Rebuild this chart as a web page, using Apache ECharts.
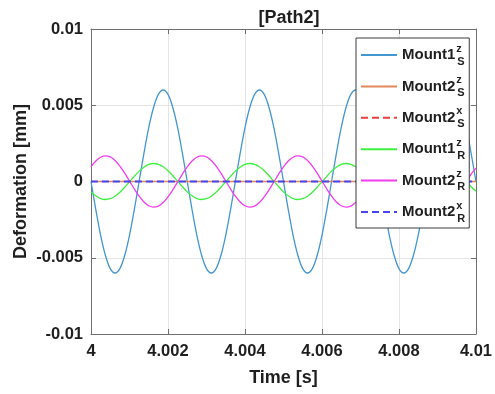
<!DOCTYPE html>
<html>
<head>
<meta charset="utf-8">
<script src="https://cdn.jsdelivr.net/npm/echarts@6.0.0/dist/echarts.min.js"></script>
<style>
  html, body { margin: 0; padding: 0; background: #fff; }
  #chart { width: 495px; height: 394px; }
</style>
</head>
<body>
<div id="chart"></div>
<script>
// time axis samples [s]
const times = [
  4, 4.000125, 4.00025, 4.000375, 4.0005, 4.000625, 4.00075, 4.000875,
  4.001, 4.001125, 4.00125, 4.001375, 4.0015, 4.001625, 4.00175, 4.001875,
  4.002, 4.002125, 4.00225, 4.002375, 4.0025, 4.002625, 4.00275, 4.002875,
  4.003, 4.003125, 4.00325, 4.003375, 4.0035, 4.003625, 4.00375, 4.003875,
  4.004, 4.004125, 4.00425, 4.004375, 4.0045, 4.004625, 4.00475, 4.004875,
  4.005, 4.005125, 4.00525, 4.005375, 4.0055, 4.005625, 4.00575, 4.005875,
  4.006, 4.006125, 4.00625, 4.006375, 4.0065, 4.006625, 4.00675, 4.006875,
  4.007, 4.007125, 4.00725, 4.007375, 4.0075, 4.007625, 4.00775, 4.007875,
  4.008, 4.008125, 4.00825, 4.008375, 4.0085, 4.008625, 4.00875, 4.008875,
  4.009, 4.009125, 4.00925, 4.009375, 4.0095, 4.009625, 4.00975, 4.009875,
  4.01
];

// Mount1 S z  [mm]
const mount1Sz = [
  0, -0.00185, -0.00353, -0.00485, -0.00571, -0.006, -0.00571, -0.00485,
  -0.00353, -0.00185, 0, 0.00185, 0.00353, 0.00485, 0.00571, 0.006,
  0.00571, 0.00485, 0.00353, 0.00185, 0, -0.00185, -0.00353, -0.00485,
  -0.00571, -0.006, -0.00571, -0.00485, -0.00353, -0.00185, 0, 0.00185,
  0.00353, 0.00485, 0.00571, 0.006, 0.00571, 0.00485, 0.00353, 0.00185,
  0, -0.00185, -0.00353, -0.00485, -0.00571, -0.006, -0.00571, -0.00485,
  -0.00353, -0.00185, 0, 0.00185, 0.00353, 0.00485, 0.00571, 0.006,
  0.00571, 0.00485, 0.00353, 0.00185, 0, -0.00185, -0.00353, -0.00485,
  -0.00571, -0.006, -0.00571, -0.00485, -0.00353, -0.00185, 0, 0.00185,
  0.00353, 0.00485, 0.00571, 0.006, 0.00571, 0.00485, 0.00353, 0.00185,
  0
];

// Mount1 R z  [mm]
const mount1Rz = [
  -0.00068, -0.00094, -0.00112, -0.00118, -0.00113, -0.00097, -0.00071, -0.00038,
  -0.00002, 0.00034, 0.00068, 0.00094, 0.00112, 0.00118, 0.00113, 0.00097,
  0.00071, 0.00038, 0.00002, -0.00034, -0.00068, -0.00094, -0.00112, -0.00118,
  -0.00113, -0.00097, -0.00071, -0.00038, -0.00002, 0.00034, 0.00068, 0.00094,
  0.00112, 0.00118, 0.00113, 0.00097, 0.00071, 0.00038, 0.00002, -0.00034,
  -0.00068, -0.00094, -0.00112, -0.00118, -0.00113, -0.00097, -0.00071, -0.00038,
  -0.00002, 0.00034, 0.00068, 0.00094, 0.00112, 0.00118, 0.00113, 0.00097,
  0.00071, 0.00038, 0.00002, -0.00034, -0.00068, -0.00094, -0.00112, -0.00118,
  -0.00113, -0.00097, -0.00071, -0.00038, -0.00002, 0.00034, 0.00068, 0.00094,
  0.00112, 0.00118, 0.00113, 0.00097, 0.00071, 0.00038, 0.00002, -0.00034,
  -0.00062
];

// Mount2 R z  [mm]
const mount2Rz = [
  0.00096, 0.00134, 0.00159, 0.00168, 0.00161, 0.00138, 0.00101, 0.00055,
  0.00003, -0.00049, -0.00096, -0.00134, -0.00159, -0.00168, -0.00161, -0.00138,
  -0.00101, -0.00055, -0.00003, 0.00049, 0.00096, 0.00134, 0.00159, 0.00168,
  0.00161, 0.00138, 0.00101, 0.00055, 0.00003, -0.00049, -0.00096, -0.00134,
  -0.00159, -0.00168, -0.00161, -0.00138, -0.00101, -0.00055, -0.00003, 0.00049,
  0.00096, 0.00134, 0.00159, 0.00168, 0.00161, 0.00138, 0.00101, 0.00055,
  0.00003, -0.00049, -0.00096, -0.00134, -0.00159, -0.00168, -0.00161, -0.00138,
  -0.00101, -0.00055, -0.00003, 0.00049, 0.00096, 0.00134, 0.00159, 0.00168,
  0.00161, 0.00138, 0.00101, 0.00055, 0.00003, -0.00049, -0.00096, -0.00134,
  -0.00159, -0.00168, -0.00161, -0.00138, -0.00101, -0.00055, -0.00003, 0.00049,
  0.00088
];

// flat traces (two end points)
const flatTimes = [4, 4.01];
const mount2Sz = [0, 0];
const mount2Sx = [0, 0];
const mount2Rx = [0, 0];

// legend pieces: base name, superscript, subscript
const legendBase = ["Mount1", "Mount2", "Mount2", "Mount1", "Mount2", "Mount2"];
const legendSup = ["z", "z", "x", "z", "z", "x"];
const legendSub = ["S", "S", "S", "R", "R", "R"];
const seriesNames = legendBase.map((b, i) => b + "_" + legendSub[i] + "^" + legendSup[i]);

const xTicks = { min: 4, max: 4.01, interval: 0.002 };
const yTicks = { min: -0.01, max: 0.01, interval: 0.005 };

const FONT = '"Liberation Sans", Arial, sans-serif';
const TXT = "#1f1f1f";
const AXC = "#707070";

const pairs = (xs, ys) => xs.map((x, i) => [x, ys[i]]);

const chart = echarts.init(document.getElementById("chart"));

function lineSeries(idx, xs, ys, color, dashed, width) {
  return {
    name: seriesNames[idx],
    type: "line",
    data: pairs(xs, ys),
    symbol: "none",
    smooth: 0.35,
    lineStyle: { color: color, width: width || 1.3, type: dashed ? [7, 4] : "solid" },
    itemStyle: { color: color },
    emphasis: { disabled: true }
  };
}

const axisCommon = {
  axisLine: { show: true, onZero: false, lineStyle: { color: AXC, width: 1 } },
  axisTick: { show: true, inside: true, length: 5, lineStyle: { color: AXC } }
};

chart.setOption({
  animation: false,
  textStyle: { fontFamily: FONT },
  title: {
    text: "[Path2]",
    left: 284,
    textAlign: "center",
    top: 4,
    textStyle: { fontFamily: FONT, fontSize: 18, fontWeight: "bold", color: TXT }
  },
  grid: { left: 91, right: 17, top: 29, bottom: 60 },
  legend: {
    orient: "vertical",
    left: 356,
    top: 38,
    padding: [5, 4, 4, 4],
    itemGap: 7.4,
    itemWidth: 36,
    itemHeight: 14,
    itemStyle: { opacity: 0, borderWidth: 0 },
    backgroundColor: "#fff",
    borderColor: "#3a3a3a",
    borderWidth: 1,
    borderRadius: 0,
    selectedMode: false,
    data: seriesNames,
    formatter: name => {
      const i = seriesNames.indexOf(name);
      return "{m|" + legendBase[i] + "}{sup|" + legendSup[i] + "}{sub|" + legendSub[i] + "}";
    },
    textStyle: {
      fontFamily: FONT,
      color: TXT,
      rich: {
        m: { fontFamily: FONT, fontSize: 15, fontWeight: "bold", color: TXT, lineHeight: 24, verticalAlign: "middle" },
        sup: { fontFamily: FONT, fontSize: 11, fontWeight: "bold", color: TXT, lineHeight: 12, verticalAlign: "top", width: 0, padding: [0, 0, 0, 1] },
        sub: { fontFamily: FONT, fontSize: 11, fontWeight: "bold", color: TXT, lineHeight: 12, verticalAlign: "bottom", padding: [0, 0, 0, 1] }
      }
    }
  },
  xAxis: [
    Object.assign({
      type: "value",
      min: xTicks.min,
      max: xTicks.max,
      interval: xTicks.interval,
      name: "Time [s]",
      nameLocation: "middle",
      nameGap: 35,
      nameMoveOverlap: false,
      nameTextStyle: { fontFamily: FONT, fontSize: 18, fontWeight: "bold", color: TXT },
      axisLabel: {
        margin: 9,
        fontFamily: FONT, fontSize: 16.5, fontWeight: "bold", color: TXT,
        formatter: v => String(+v.toFixed(3))
      },
      splitLine: { show: true, lineStyle: { color: "#e4e4e4", width: 1 } }
    }, axisCommon),
    Object.assign({
      type: "value",
      position: "top",
      min: xTicks.min,
      max: xTicks.max,
      interval: xTicks.interval,
      axisLabel: { show: false },
      splitLine: { show: false }
    }, axisCommon)
  ],
  yAxis: [
    Object.assign({
      type: "value",
      min: yTicks.min,
      max: yTicks.max,
      interval: yTicks.interval,
      name: "Deformation [mm]",
      nameLocation: "middle",
      nameGap: 61,
      nameMoveOverlap: false,
      nameTextStyle: { fontFamily: FONT, fontSize: 18, fontWeight: "bold", color: TXT },
      axisLabel: {
        margin: 8,
        fontFamily: FONT, fontSize: 16.5, fontWeight: "bold", color: TXT,
        formatter: v => String(+v.toFixed(3))
      },
      splitLine: { show: true, lineStyle: { color: "#e4e4e4", width: 1 } }
    }, axisCommon),
    Object.assign({
      type: "value",
      position: "right",
      min: yTicks.min,
      max: yTicks.max,
      interval: yTicks.interval,
      axisLabel: { show: false },
      splitLine: { show: false }
    }, axisCommon)
  ],
  series: [
    lineSeries(0, times, mount1Sz, "#4396cf", false),
    lineSeries(1, flatTimes, mount2Sz, "#e0885a", false, 1.6),
    lineSeries(2, flatTimes, mount2Sx, "#e84040", true, 1.2),
    lineSeries(3, times, mount1Rz, "#3ef03e", false),
    lineSeries(4, times, mount2Rz, "#f03ef0", false),
    lineSeries(5, flatTimes, mount2Rx, "#4646f0", true, 1.8)
  ]
});
</script>
</body>
</html>
